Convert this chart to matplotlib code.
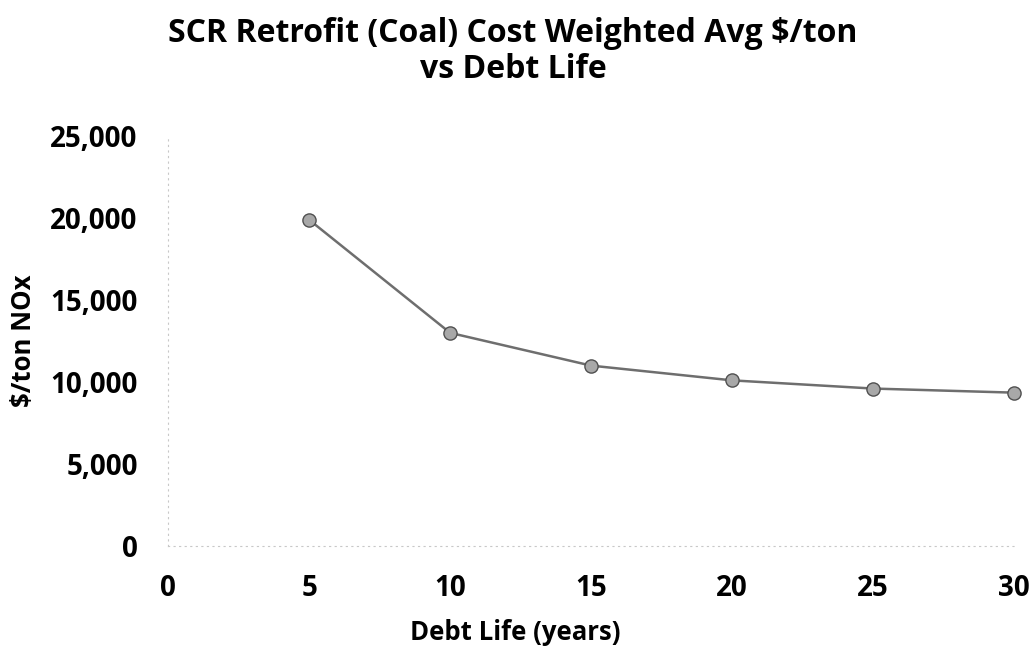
import matplotlib
matplotlib.use("Agg")
import matplotlib.pyplot as plt
from matplotlib.ticker import FuncFormatter

debt_life = [5, 10, 15, 20, 25, 30]
cost_per_ton = [19900, 13000, 11000, 10100, 9600, 9350]
x_ticks = [0, 5, 10, 15, 20, 25, 30]
y_ticks = [0, 5000, 10000, 15000, 20000, 25000]

plt.rcParams['font.family'] = ['Open Sans', 'DejaVu Sans']

fig = plt.figure(figsize=(10.32, 6.49), dpi=100)
ax = fig.add_axes([0.163, 0.159, 0.8196, 0.631])

ax.plot(debt_life, cost_per_ton, '-o', color='#6e6e6e', linewidth=1.8,
        markersize=9.5, markerfacecolor='#a8a8a8', markeredgecolor='#505050',
        markeredgewidth=1.0, clip_on=False, zorder=3)

ax.set_xlim(0, 30)
ax.set_ylim(0, 25000)
ax.set_xticks(x_ticks)
ax.set_yticks(y_ticks)
ax.yaxis.set_major_formatter(FuncFormatter(lambda v, p: f'{int(v):,}'))
ax.tick_params(axis='y', length=0, labelsize=20, pad=22)
ax.tick_params(axis='x', length=0, labelsize=20, pad=20)
for lab in ax.get_xticklabels() + ax.get_yticklabels():
    lab.set_fontweight('bold')

for side in ['top', 'right']:
    ax.spines[side].set_visible(False)
for side in ['left', 'bottom']:
    ax.spines[side].set_color('#c8c8c8')
    ax.spines[side].set_linestyle((0, (1, 4)))
    ax.spines[side].set_linewidth(0.8)

ax.set_xlabel('Debt Life (years)', fontsize=18.5, fontweight='bold', va='center')
ax.xaxis.set_label_coords(0.41, -0.212)
ax.set_ylabel('$/ton NOx', fontsize=18.5, fontweight='bold', va='center')
ax.yaxis.set_label_coords(-0.171, 0.5)

fig.text(0.497, 1 - 17 / 649, 'SCR Retrofit (Coal) Cost Weighted Avg $/ton\nvs Debt Life',
         fontsize=23, fontweight='bold', ha='center', va='top',
         linespacing=1.1, multialignment='center')

fig.savefig('out.png', dpi=100)
